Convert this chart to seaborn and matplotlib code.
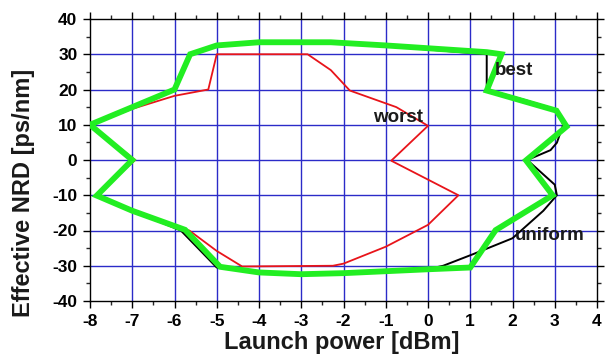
import matplotlib
matplotlib.use("Agg")
import matplotlib.pyplot as plt
import seaborn as sns
import pandas as pd
from matplotlib.ticker import MultipleLocator

# ---- data ----
worst_x = [-8, -7, -6, -5.2, -5, -2.85, -2.3, -1.85, -0.75, 0, -0.87, 0.72, 0, -1.0,
           -2.0, -2.25, -4.4, -5, -5.65, -5.9, -7, -7.85, -6.93, -8]
worst_y = [10, 14.5, 18.2, 20, 30, 30, 25.5, 19.7, 15, 9.7, -0.2, -10, -18.4, -24.6,
           -29.4, -30, -30.2, -25.8, -20, -19.6, -14.5, -10, 0, 10]

uniform_x = [-8, -7, -6, -5.63, -5, -4, -2.3, -1, 1.39, 1.39, 2.27, 3.04, 3.2, 3.05,
             2.9, 2.35, 3.0, 3.05, 2.73, 2.0, 1.07, 0.36, 0, -2, -3, -4, -5, -5.85,
             -7, -7.84, -7, -8]
uniform_y = [10, 15, 20, 30, 32.5, 33.4, 33.4, 32.3, 30, 20, 17.1, 14.3, 10, 4.9,
             2.8, 0, -7, -10, -14.4, -22.2, -26.7, -30, -31, -32.1, -32.4, -31.9,
             -30.5, -20, -14.4, -10.1, 0, 10]

best_x = [-8, -7, -6, -5.63, -5, -4, -2.3, -1, 1.39, 1.74, 1.39, 3.04, 3.28, 2.32,
          2.95, 1.6, 1.0, 0, -2, -3, -4, -4.92, -5.75, -7, -7.84, -7, -8]
best_y = [10, 15, 20, 30, 32.5, 33.4, 33.4, 32.5, 30.6, 30, 19.7, 14, 9.5, -0.1,
          -10, -19.9, -30.5, -31, -32.1, -32.4, -31.9, -30.3, -19.8, -14.4, -10.1, 0, 10]

labels = ["worst", "uniform", "best"]
label_x = [-1.3, 2.06, 1.58]
label_y = [12.1, -21.5, 25.4]

x_ticks = [-8, -7, -6, -5, -4, -3, -2, -1, 0, 1, 2, 3, 4]
y_ticks = [-40, -30, -20, -10, 0, 10, 20, 30, 40]
x_label = "Launch power [dBm]"
y_label = "Effective NRD [ps/nm]"

# ---- styling ----
sns.set_style("white")
plt.rcParams["font.family"] = ["Liberation Sans", "DejaVu Sans"]
plt.rcParams["font.weight"] = "bold"

fig = plt.figure(figsize=(6.05, 3.55), dpi=100)
ax = fig.add_axes([90 / 605, 1 - 301 / 355, (597 - 90) / 605, (301 - 19) / 355])

grid_blue = "#2b2bc8"
for v in x_ticks[1:-1]:
    ax.axvline(v, color=grid_blue, lw=1.0, zorder=0.5)
for v in y_ticks[1:-1]:
    ax.axhline(v, color=grid_blue, lw=1.0, zorder=0.5)

df_w = pd.DataFrame({"x": worst_x, "y": worst_y})
df_u = pd.DataFrame({"x": uniform_x, "y": uniform_y})
df_b = pd.DataFrame({"x": best_x, "y": best_y})

sns.lineplot(data=df_w, x="x", y="y", sort=False, estimator=None, color="#e8141a",
             lw=1.3, ax=ax, zorder=2)
sns.lineplot(data=df_u, x="x", y="y", sort=False, estimator=None, color="#000000",
             lw=1.4, ax=ax, zorder=3)
sns.lineplot(data=df_b, x="x", y="y", sort=False, estimator=None, color="#22ee22",
             lw=4.2, ax=ax, zorder=4, solid_joinstyle="miter")

for t, tx, ty in zip(labels, label_x, label_y):
    ax.text(tx, ty, t, fontsize=13.5, fontweight="bold", color="#1a1a1a",
            ha="left", va="center", zorder=6)

ax.set_xlim(-8, 4)
ax.set_ylim(-40, 40)
ax.set_xticks(x_ticks)
ax.set_yticks(y_ticks)
ax.set_xticklabels([str(v) for v in x_ticks])
ax.set_yticklabels([str(v) for v in y_ticks])
ax.xaxis.set_minor_locator(MultipleLocator(0.5))
ax.yaxis.set_minor_locator(MultipleLocator(5))
ax.tick_params(axis="both", which="major", length=5, width=1,
               labelsize=12.5, pad=4, colors="black")
ax.tick_params(axis="both", which="minor", length=3, width=1)
ax.tick_params(top=True, right=True, which="both", direction="in")
ax.tick_params(bottom=True, left=True, which="both", direction="out")
for lab in ax.get_xticklabels() + ax.get_yticklabels():
    lab.set_fontweight("bold")
for s in ax.spines.values():
    s.set_color("black")
    s.set_linewidth(1.0)
ax.set_xlabel("")
ax.set_ylabel("")

fig.text(342 / 605, 1 - 342 / 355, x_label, ha="center", va="center",
         fontsize=17, fontweight="bold", color="#1a1a1a")
fig.text(24 / 605, 1 - 193 / 355, y_label, ha="center", va="center",
         rotation=90, fontsize=17, fontweight="bold", color="#1a1a1a")

fig.savefig("out.png", dpi=100, facecolor="white")
